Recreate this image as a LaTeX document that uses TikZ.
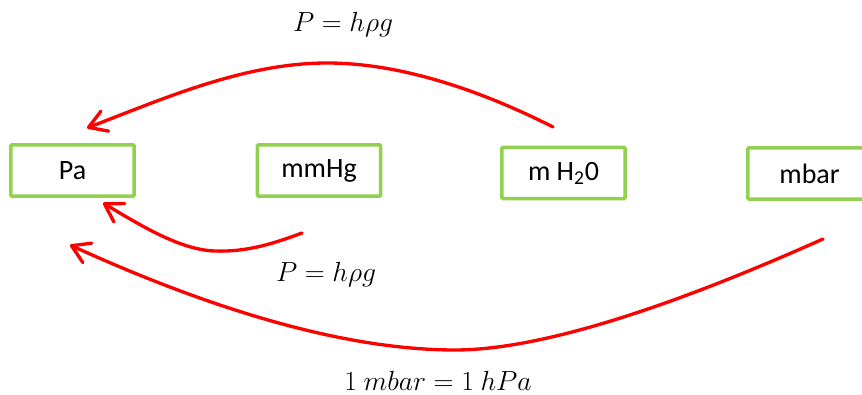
\documentclass[tikz,border=0pt]{standalone}
\usepackage{fontspec}
\setmainfont{Carlito}
\usetikzlibrary{arrows.meta}
\definecolor{boxgreen}{RGB}{146,208,80}
\definecolor{arrowred}{RGB}{255,0,0}
\begin{document}
\begin{tikzpicture}[x=0.75pt,y=-0.75pt,
  unitbox/.style={draw=boxgreen,line width=2.7pt,rounded corners=1pt,
    minimum width=92.5pt,minimum height=38.5pt,inner sep=0pt,
    font=\fontsize{21}{25}\selectfont},
  conv/.style={draw=arrowred,line width=2.5pt,line cap=round,
    -{Straight Barb[length=13pt,width=16pt,round]}},
  formula/.style={inner sep=0pt,font=\fontsize{22}{26}\selectfont}]
\useasboundingbox (0,0) rectangle (862,395);
% boxes
\node[unitbox] (pa)   at (72.5,170.5) {Pa};
\node[unitbox] (mmhg) at (319,170.5) {mmHg};
\node[unitbox] (mh2o) at (563.5,173) {m H\textsubscript{2}0};
\node[unitbox] (mbar) at (809.5,173.5) {mbar};
% arrow end points
\coordinate (t1) at (553,127);
\coordinate (t2) at (327,63);
\coordinate (t3) at (87,128);
\coordinate (m1) at (302,233);
\coordinate (m2) at (215,251);
\coordinate (m3) at (103,203);
\coordinate (b1) at (823,239);
\coordinate (b2) at (455,350);
\coordinate (b3) at (70,245);
% arrows
\draw[conv] (t1) .. controls (480,90) and (400,63) .. (t2)
                 .. controls (245,63) and (165,98) .. (t3);
\draw[conv] (m1) .. controls (270,245) and (245,252) .. (m2)
                 .. controls (180,250) and (140,225) .. (m3);
\draw[conv] (b1) .. controls (720,285) and (560,350) .. (b2)
                 .. controls (335,350) and (195,302) .. (b3);
% labels
\node[formula] (lbl1) at (343,25) {$P = h\rho g$};
\node[formula] (lbl2) at (326,275) {$P = h\rho g$};
\node[formula] (lbl3) at (438,381) {$1\ mbar = 1\ hPa$};
\end{tikzpicture}
\end{document}
